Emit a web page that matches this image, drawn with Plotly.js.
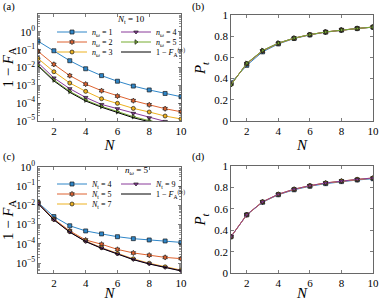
<!DOCTYPE html>
<html>
<head>
<meta charset="utf-8">
<script src="https://cdn.plot.ly/plotly-3.0.1.min.js"></script>
<style>html,body{margin:0;padding:0;background:#fff;}#chart{width:381px;height:301px;}</style>
</head>
<body>
<div id="chart"></div>
<script>
// ---------------- data ----------------
const N = [1, 2, 3, 4, 5, 6, 7, 8, 9, 10];

// (a) 1 - F_A for N_t = 10, various n_omega
const a_nw1 = [0.30, 0.087, 0.024, 0.0085, 0.0035, 0.0017, 9.1e-4, 5.5e-4, 3.5e-4, 2.3e-4];
const a_nw2 = [0.081, 0.015, 0.0035, 0.00117, 5.0e-4, 2.5e-4, 1.38e-4, 8.1e-5, 4.9e-5, 3.3e-5];
const a_nw3 = [0.032, 0.0058, 0.00135, 4.6e-4, 1.78e-4, 9.8e-5, 5.1e-5, 3.2e-5, 1.9e-5, 1.3e-5];
const a_nw4 = [0.0186, 0.0026, 6.5e-4, 2.1e-4, 8.5e-5, 4.9e-5, 2.7e-5, 1.5e-5, 9.5e-6, 6.5e-6];
const a_nw5 = [0.0135, 0.0020, 4.6e-4, 1.5e-4, 6.6e-5, 3.3e-5, 1.75e-5, 1.05e-5, 6.8e-6, 4.6e-6];
const F_inf = [0.0123, 0.00176, 4.05e-4, 1.32e-4, 5.9e-5, 2.9e-5, 1.52e-5, 9.1e-6, 5.9e-6, 4.0e-6];

// (b) P_t for N_t = 10
const b_nw1 = [0.36, 0.525, 0.652, 0.727, 0.778, 0.812, 0.838, 0.857, 0.872, 0.885];
const b_nw2 = [0.348, 0.538, 0.660, 0.732, 0.780, 0.814, 0.839, 0.858, 0.873, 0.886];
const b_nw3 = [0.344, 0.542, 0.663, 0.734, 0.781, 0.815, 0.840, 0.858, 0.873, 0.886];
const b_nw4 = [0.342, 0.544, 0.664, 0.735, 0.782, 0.815, 0.840, 0.858, 0.873, 0.886];
const b_nw5 = [0.340, 0.545, 0.665, 0.735, 0.782, 0.815, 0.840, 0.858, 0.873, 0.886];

// (c) 1 - F_A for n_omega = 5, various N_t
const c_nt4 = [0.0140, 0.0026, 8.7e-4, 4.7e-4, 3.3e-4, 2.36e-4, 1.87e-4, 1.6e-4, 1.42e-4, 1.2e-4];
const c_nt5 = [0.0135, 0.00195, 4.7e-4, 1.6e-4, 9.6e-5, 5.2e-5, 3.4e-5, 2.6e-5, 2.0e-5, 1.73e-5];
const c_nt7 = [0.0130, 0.00185, 4.3e-4, 1.42e-4, 6.4e-5, 3.2e-5, 1.68e-5, 1.0e-5, 6.5e-6, 4.4e-6];
const c_nt9 = [0.0126, 0.00180, 4.15e-4, 1.36e-4, 6.1e-5, 3.0e-5, 1.58e-5, 9.4e-6, 6.1e-6, 4.1e-6];

// (d) P_t for n_omega = 5
const d_nt4 = [0.340, 0.543, 0.660, 0.730, 0.776, 0.809, 0.833, 0.852, 0.867, 0.879];
const d_nt5 = [0.340, 0.544, 0.663, 0.733, 0.780, 0.813, 0.838, 0.856, 0.871, 0.884];
const d_nt7 = [0.340, 0.545, 0.665, 0.735, 0.782, 0.815, 0.840, 0.858, 0.873, 0.886];
const d_nt9 = [0.340, 0.545, 0.665, 0.735, 0.782, 0.815, 0.840, 0.858, 0.873, 0.886];

const xTicks = [2, 4, 6, 8, 10];
const logTicks = [1e-5, 1e-4, 1e-3, 1e-2, 1e-1, 1e0];
const logTickText = ['10<sup>−5</sup>', '10<sup>−4</sup>', '10<sup>−3</sup>', '10<sup>−2</sup>', '10<sup>−1</sup>', '10<sup>0</sup>'];
const pTicks = [0, 0.2, 0.4, 0.6, 0.8, 1];
const pTickText = ['0', '0.2', '0.4', '0.6', '0.8', '1'];

// ---------------- styles ----------------
const W = 381, H = 301;
const FONT = 'Liberation Serif, Times New Roman, serif';
const AX = '#262626';
const COL = {blue: '#2f86c8', orange: '#de6330', yellow: '#edb120', purple: '#8a3a9a', green: '#77ac30', black: '#000000'};
const px = v => v / W;
const py = v => 1 - v / H;

const traces = [];
function series(xa, ya, y, color, symbol, name, leg) {
  const t = {
    x: N, y: y, xaxis: xa, yaxis: ya, name: name,
    type: 'scatter', mode: symbol ? 'lines+markers' : 'lines',
    line: {color: color, width: 1},
    showlegend: !!leg,
    hoverinfo: 'skip'
  };
  if (symbol) t.marker = {symbol: symbol, size: 4, color: color, line: {color: '#1a1a1a', width: 0.7}};
  if (leg) t.legend = leg;
  traces.push(t);
}

const nw = i => '<i>n</i><sub><i>ω</i></sub> = ' + i;
const nt = i => '<i>N</i><sub>t</sub> = ' + i;
const finf = '1 − <i>F</i><sub>A</sub><sup>(∞)</sup>';

// (a)
series('x', 'y', a_nw1, COL.blue, 'square', nw(1), 'legend');
series('x', 'y', a_nw2, COL.orange, 'hexagram', nw(2), 'legend2');
series('x', 'y', a_nw3, COL.yellow, 'circle', nw(3), 'legend3');
series('x', 'y', a_nw4, COL.purple, 'triangle-down', nw(4), 'legend4');
series('x', 'y', a_nw5, COL.green, 'triangle-right', nw(5), 'legend5');
series('x', 'y', F_inf, COL.black, null, finf, 'legend6');
// (b)
series('x2', 'y2', b_nw1, COL.blue, 'square', nw(1));
series('x2', 'y2', b_nw2, COL.orange, 'hexagram', nw(2));
series('x2', 'y2', b_nw3, COL.yellow, 'circle', nw(3));
series('x2', 'y2', b_nw4, COL.purple, 'triangle-down', nw(4));
series('x2', 'y2', b_nw5, COL.green, 'triangle-right', nw(5));
// (c)
series('x3', 'y3', c_nt4, COL.blue, 'square', nt(4), 'legend7');
series('x3', 'y3', c_nt5, COL.orange, 'hexagram', nt(5), 'legend8');
series('x3', 'y3', c_nt7, COL.yellow, 'circle', nt(7), 'legend9');
series('x3', 'y3', c_nt9, COL.purple, 'triangle-down', nt(9), 'legend10');
series('x3', 'y3', F_inf, COL.black, null, finf, 'legend11');
// (d)
series('x4', 'y4', d_nt4, COL.blue, 'square', nt(4));
series('x4', 'y4', d_nt5, COL.orange, 'hexagram', nt(5));
series('x4', 'y4', d_nt7, COL.yellow, 'circle', nt(7));
series('x4', 'y4', d_nt9, COL.purple, 'triangle-down', nt(9));

// minor ticks for log axes
const minorLog = [];
for (let e = -6; e <= 1; e++) for (let m = 2; m <= 9; m++) minorLog.push(m * Math.pow(10, e));

function xAxis(dom, anchor) {
  return {
    domain: dom, anchor: anchor, range: [1, 10], tickvals: xTicks, ticktext: xTicks.map(String),
    ticks: 'inside', ticklen: 3, tickwidth: 0.6, tickcolor: AX, showline: true, linecolor: AX, linewidth: 0.7,
    mirror: 'ticks', showgrid: false, zeroline: false, automargin: false,
    tickfont: {family: FONT, size: 11, color: '#000'},
    title: {text: '<i>N</i>', font: {family: FONT, size: 15, color: '#000'}, standoff: 2}
  };
}
function yLog(dom, anchor, range) {
  return {
    domain: dom, anchor: anchor, type: 'log', range: range, tickvals: logTicks, ticktext: logTickText,
    ticks: 'inside', ticklen: 3, tickwidth: 0.6, tickcolor: AX, showline: true, linecolor: AX, linewidth: 0.7,
    mirror: 'ticks', showgrid: false, zeroline: false, automargin: false,
    minor: {tickmode: 'array', tickvals: minorLog, ticks: 'inside', ticklen: 1.6, tickwidth: 0.5, tickcolor: AX, showgrid: false},
    tickfont: {family: FONT, size: 11, color: '#000'},
    title: {text: '1 − <i>F</i><sub>A</sub>', font: {family: FONT, size: 15, color: '#000'}, standoff: 2}
  };
}
function yLin(dom, anchor) {
  return {
    domain: dom, anchor: anchor, range: [0, 1], tickvals: pTicks, ticktext: pTickText,
    ticks: 'inside', ticklen: 3, tickwidth: 0.6, tickcolor: AX, showline: true, linecolor: AX, linewidth: 0.7,
    mirror: 'ticks', showgrid: false, zeroline: false, automargin: false,
    tickfont: {family: FONT, size: 11, color: '#000'},
    title: {text: '<i>P</i><sub><i>t</i></sub>', font: {family: FONT, size: 15, color: '#000'}, standoff: 4}
  };
}

const xL = [px(38), px(181)], xR = [px(231), px(373)];
const yTop = [py(121), py(14)], yTopR = [py(121), py(15)];
const yBot = [py(273.3), py(166.7)], yBotR = [py(273.3), py(165.7)];

function leg(x, y) {
  return {x: px(x), y: py(y), xanchor: 'left', yanchor: 'middle', bgcolor: 'rgba(0,0,0,0)', borderwidth: 0,
          font: {family: FONT, size: 8, color: '#000'}, itemclick: false, itemdoubleclick: false};
}

function note(text, x, y, size, anchor) {
  return {text: text, x: px(x), y: py(y), xref: 'paper', yref: 'paper', xanchor: anchor, yanchor: 'middle',
          showarrow: false, font: {family: FONT, size: size, color: '#000'}};
}

const layout = {
  width: W, height: H, margin: {l: 0, r: 0, t: 0, b: 0},
  paper_bgcolor: '#fff', plot_bgcolor: '#fff', showlegend: true,
  font: {family: FONT, color: '#000'},
  xaxis: xAxis(xL, 'y'), yaxis: yLog(yTop, 'x', [-5, 1]),
  xaxis2: xAxis(xR, 'y2'), yaxis2: yLin(yTopR, 'x2'),
  xaxis3: xAxis(xL, 'y3'), yaxis3: yLog(yBot, 'x3', [Math.log10(3e-6), 0]),
  xaxis4: xAxis(xR, 'y4'), yaxis4: yLin(yBotR, 'x4'),
  legend: leg(52, 32), legend2: leg(52, 42), legend3: leg(52, 52),
  legend4: leg(116, 32), legend5: leg(116, 42), legend6: leg(116, 52),
  legend7: leg(52, 184), legend8: leg(52, 194), legend9: leg(52, 204),
  legend10: leg(116, 184), legend11: leg(116, 194),
  annotations: [
    note('(a)', 1, 7, 10.5, 'left'),
    note('(b)', 190, 7, 10.5, 'left'),
    note('(c)', 1, 157, 10.5, 'left'),
    note('(d)', 190, 157, 10.5, 'left'),
    note('<i>N</i><sub>t</sub> = 10', 131, 20, 9, 'center'),
    note('<i>n</i><sub><i>ω</i></sub> = 5', 137, 171, 9, 'center')
  ]
};

Plotly.newPlot('chart', traces, layout, {staticPlot: true, displayModeBar: false});
</script>
</body>
</html>
